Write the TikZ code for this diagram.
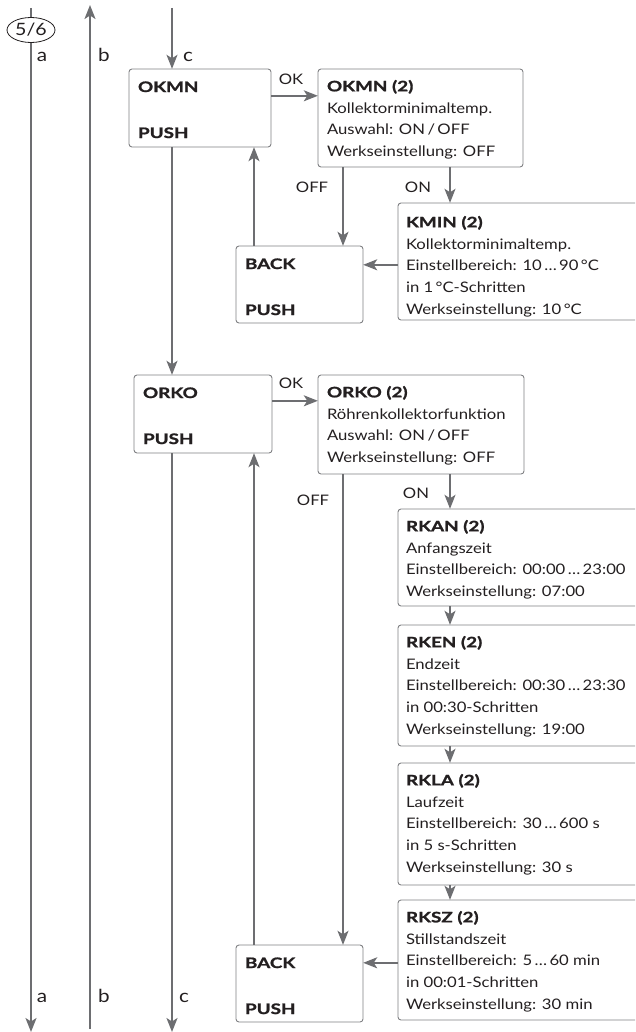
\documentclass[tikz,border=0pt]{standalone}
\usepackage{fontspec}
\setmainfont{Lato}[UprightFeatures={FakeStretch=1.15},BoldFeatures={FakeStretch=1.3,FakeBold=1.2}]
\usetikzlibrary{arrows.meta,calc,shapes.geometric}
\definecolor{ln}{HTML}{6D6E71}
\definecolor{bx}{HTML}{7F8083}
\definecolor{tx}{HTML}{231F20}
\tikzset{
  x=1pt,y=-1pt,
  arr/.style={draw=ln,line width=1.8pt,-{Stealth[length=14pt,width=11pt,inset=3.5pt]}},
  boxs/.style={draw=bx,line width=0.9pt,rounded corners=3pt,fill=white},
  txt/.style={text=tx,font=\fontsize{14.5}{21.8}\selectfont,inner sep=0pt,align=left,anchor=north west},
  lbl/.style={text=tx,font=\fontsize{14.5}{16}\selectfont,inner sep=0pt},
  sidel/.style={text=tx,font=\fontsize{18}{20}\selectfont,inner sep=0pt},
  bold/.style={text=tx,font=\fontsize{14.5}{16}\selectfont\bfseries,inner sep=0pt,anchor=west},
}
\newcommand\mybox[5]{\path[boxs] (#2,#3) rectangle (#4,#5);
  \path (#2,#3) rectangle (#4,#5) node[pos=0.5,inner sep=0pt,minimum width={#4-#2},minimum height={#5-#3}] (#1) {};}
\begin{document}
\begin{tikzpicture}
\useasboundingbox (0,0) rectangle (635,1032);
\clip (0,0) rectangle (635,1032);
% coordinates
\coordinate (aTop) at (31,8);
\coordinate (aBot) at (31,1032);
\coordinate (bTop) at (90,5);
\coordinate (bBot) at (90,1029);
\coordinate (cTop) at (172,8);
\coordinate (cBot) at (172,1032);
\coordinate (up) at (254,0);
\coordinate (off) at (343,0);
\coordinate (on) at (450,0);
% boxes
\mybox{okmn}{129}{69}{271}{147}
\mybox{okmn2}{318}{69}{523}{167}
\mybox{kmin}{398}{203}{660}{320}
\mybox{back1}{236}{246}{363}{323}
\mybox{orko}{134}{375}{272}{453}
\mybox{orko2}{318}{375}{524}{474}
\mybox{rkan}{398}{509}{660}{606}
\mybox{rken}{398}{625}{660}{746}
\mybox{rkla}{398}{763}{660}{885}
\mybox{rksz}{398}{900}{660}{1020}
\mybox{back2}{236}{945}{363}{1022}
% left box texts
\node[bold] (okmn-a) at ($(okmn.north west)+(9,18)$) {OKMN};
\node[bold] (okmn-b) at ($(okmn.north west)+(9,64)$) {PUSH};
\node[bold] (orko-a) at ($(orko.north west)+(9,18)$) {ORKO};
\node[bold] (orko-b) at ($(orko.north west)+(9,64)$) {PUSH};
\node[bold] (back1-a) at ($(back1.north west)+(9,18)$) {BACK};
\node[bold] (back1-b) at ($(back1.north west)+(9,64)$) {PUSH};
\node[bold] (back2-a) at ($(back2.north west)+(9,18)$) {BACK};
\node[bold] (back2-b) at ($(back2.north west)+(9,64)$) {PUSH};
% right box texts
\node[txt] (okmn2-t) at ($(okmn2.north west)+(9,11)$) {\textbf{OKMN (2)}\\Kollektorminimaltemp.\\Auswahl: ON\,/\,OFF\\Werkseinstellung: OFF};
\node[txt] (kmin-t) at ($(kmin.north west)+(8,13)$) {\textbf{KMIN (2)}\\Kollektorminimaltemp.\\Einstellbereich: 10\,…\,90\,°C\\in 1\,°C-Schritten\\Werkseinstellung: 10\,°C};
\node[txt] (orko2-t) at ($(orko2.north west)+(9,11)$) {\textbf{ORKO (2)}\\Röhrenkollektorfunktion\\Auswahl: ON\,/\,OFF\\Werkseinstellung: OFF};
\node[txt] (rkan-t) at ($(rkan.north west)+(8,11)$) {\textbf{RKAN (2)}\\Anfangszeit\\Einstellbereich: 00:00\,…\,23:00\\Werkseinstellung: 07:00};
\node[txt] (rken-t) at ($(rken.north west)+(8,11)$) {\textbf{RKEN (2)}\\Endzeit\\Einstellbereich: 00:30\,…\,23:30\\in 00:30-Schritten\\Werkseinstellung: 19:00};
\node[txt] (rkla-t) at ($(rkla.north west)+(8,11)$) {\textbf{RKLA (2)}\\Laufzeit\\Einstellbereich: 30\,…\,600 s\\in 5 s-Schritten\\Werkseinstellung: 30 s};
\node[txt] (rksz-t) at ($(rksz.north west)+(8,11)$) {\textbf{RKSZ (2)}\\Stillstandszeit\\Einstellbereich: 5\,…\,60 min\\in 00:01-Schritten\\Werkseinstellung: 30 min};
% side lines
\draw[arr] (aTop) -- (aBot);
\draw[arr] (bBot) -- (bTop);
\node[draw=tx,line width=0.8pt,fill=white,ellipse,minimum width=48pt,minimum height=25pt,inner sep=0pt,text=tx,font=\fontsize{17}{18}\selectfont] (p56) at (31,30) {5/6};
\draw[arr] (cTop) -- (okmn.north -| cTop);
\draw[arr] (okmn.south -| cTop) -- (orko.north -| cTop);
\draw[arr] (orko.south -| cTop) -- (cBot);
% first block
\draw[arr] ($(okmn.north east)+(0,27)$) coordinate (ok1) -- (ok1 -| okmn2.west);
\draw[arr] (okmn2.south -| off) -- (back1.north -| off);
\draw[arr] (okmn2.south -| on) -- (kmin.north -| on);
\draw[arr] ($(kmin.north west)+(0,62)$) coordinate (k1) -- (k1 -| back1.east);
\draw[arr] (back1.north -| up) -- (okmn.south -| up);
% second block
\draw[arr] ($(orko.north east)+(0,26)$) coordinate (ok2) -- (ok2 -| orko2.west);
\draw[arr] (orko2.south -| off) -- (back2.north -| off);
\draw[arr] (orko2.south -| on) -- (rkan.north -| on);
\draw[arr] (rkan.south -| on) -- (rken.north -| on);
\draw[arr] (rken.south -| on) -- (rkla.north -| on);
\draw[arr] (rkla.south -| on) -- (rksz.north -| on);
\draw[arr] ($(rksz.north west)+(0,63)$) coordinate (k2) -- (k2 -| back2.east);
\draw[arr] (back2.north -| up) -- (orko.south -| up);
% labels
\node[sidel,anchor=base] (la1) at (42,62) {a};
\node[sidel,anchor=base] (lb1) at (104,62) {b};
\node[sidel,anchor=base] (lc1) at (188,62) {c};
\node[sidel,anchor=base] (la2) at (42,1002) {a};
\node[sidel,anchor=base] (lb2) at (104,1002) {b};
\node[sidel,anchor=base] (lc2) at (184,1002) {c};
\node[lbl] (ok1l) at (291,79) {OK};
\node[lbl] (ok2l) at (291,383) {OK};
\node[lbl] (off1l) at (312,187) {OFF};
\node[lbl] (on1l) at (418,187) {ON};
\node[lbl] (off2l) at (313,500) {OFF};
\node[lbl] (on2l) at (416,493) {ON};
\end{tikzpicture}
\end{document}
